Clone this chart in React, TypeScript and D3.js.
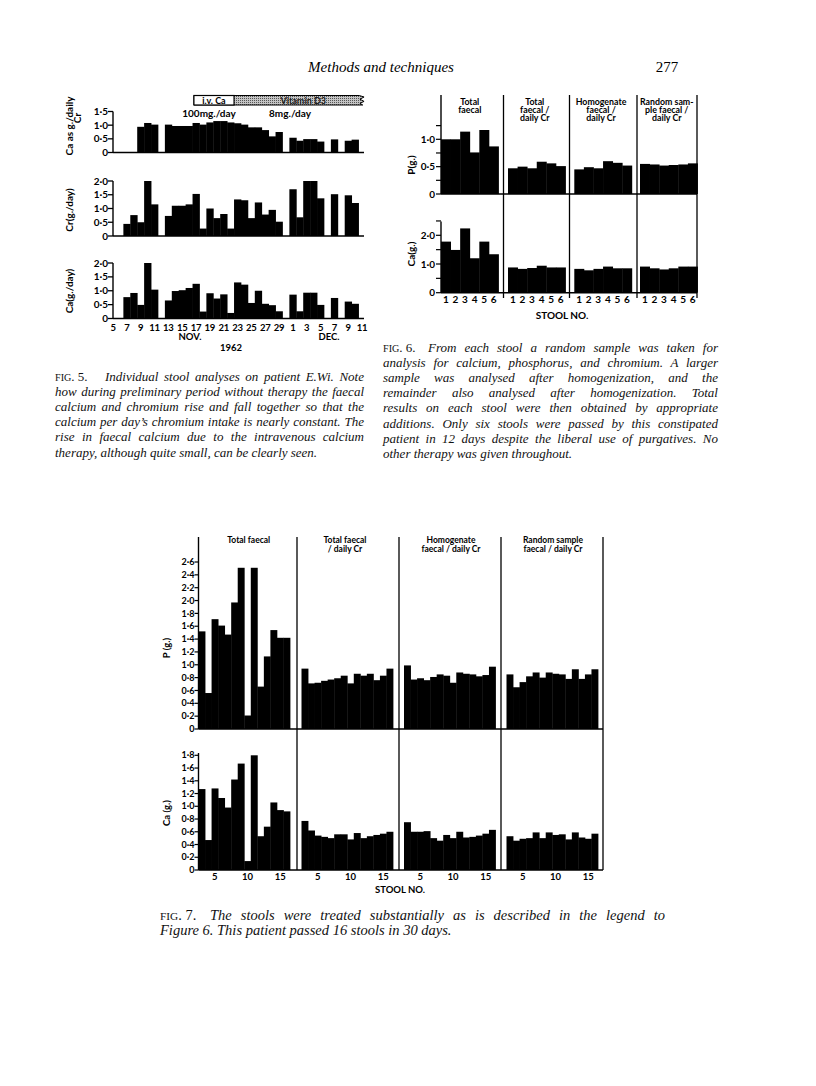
import React, { useRef, useEffect } from 'react';
import * as d3 from 'd3';

// page furniture
const headerTitle = 'Methods and techniques';
const pageNumber = '277';

// ---- Fig 5: one value per day, Nov 5 (index 0) .. Dec 10 (index 35), null = no stool
const fig5TickLabels = ['5', '7', '9', '11', '13', '15', '17', '19', '21', '23', '25', '27', '29', '1', '3', '5', '7', '9', '11'];
const fig5Ratio = [null, null, null, null, 0.94, 1.08, 1.02, null, 1.02, 0.97, 0.97, 0.97, 1.08, 1.02, 1.1, 1.15, 1.15, 1.1, 1.07, 1.02, 0.92, 0.92, 0.82, 0.59, 0.75, null, 0.54, 0.43, 0.49, 0.49, 0.4, null, 0.48, null, 0.43, 0.47];
const fig5Cr = [null, null, 0.44, 0.76, 0.5, 2.0, 1.15, null, 0.73, 1.1, 1.1, 1.15, 1.53, 0.27, 1.0, 0.65, 0.8, 0.27, 1.33, 1.3, 0.65, 1.22, 0.78, 0.95, 0.52, null, 1.7, 0.68, 2.0, 2.0, 1.37, null, 1.52, null, 1.48, 1.2];
const fig5Ca = [null, null, 0.77, 0.92, 0.49, 2.0, 1.04, null, 0.65, 0.99, 1.02, 1.1, 1.25, 0.25, 0.91, 0.72, 0.87, 0.2, 1.3, 1.22, 0.56, 1.0, 0.53, 0.48, 0.26, null, 0.86, 0.26, 0.93, 0.93, 0.49, null, 0.74, null, 0.61, 0.53];

// ---- Fig 6
const fig6Groups = [['Total', 'faecal'], ['Total', 'faecal  /', 'daily  Cr'], ['Homogenate', 'faecal  /', 'daily  Cr'], ['Random sam-', 'ple faecal  /', 'daily  Cr']];
const fig6Stools = [1, 2, 3, 4, 5, 6];
const fig6P = [
  [1.0, 1.0, 1.14, 0.76, 1.17, 0.87],
  [0.47, 0.5, 0.47, 0.59, 0.56, 0.51],
  [0.45, 0.49, 0.47, 0.6, 0.57, 0.52],
  [0.55, 0.54, 0.52, 0.53, 0.54, 0.56]
];
const fig6Ca = [
  [1.78, 1.49, 2.24, 1.2, 1.78, 1.34],
  [0.88, 0.83, 0.86, 0.94, 0.88, 0.88],
  [0.83, 0.78, 0.83, 0.91, 0.85, 0.85],
  [0.91, 0.85, 0.81, 0.85, 0.91, 0.91]
];

// ---- Fig 7 (stools 3..16 plotted)
const fig7Groups = [['Total  faecal'], ['Total  faecal', '/ daily  Cr'], ['Homogenate', 'faecal  /  daily  Cr'], ['Random  sample', 'faecal  /  daily  Cr']];
const fig7Stools = [3, 4, 5, 6, 7, 8, 9, 10, 11, 12, 13, 14, 15, 16];
const fig7TickStools = [5, 10, 15];
const fig7P = [
  [1.52, 0.56, 1.71, 1.61, 1.47, 1.97, 2.51, 0.21, 2.51, 0.66, 1.13, 1.54, 1.42, 1.42],
  [0.94, 0.71, 0.72, 0.75, 0.77, 0.79, 0.83, 0.71, 0.86, 0.83, 0.86, 0.76, 0.83, 0.94],
  [0.99, 0.77, 0.79, 0.76, 0.81, 0.85, 0.83, 0.72, 0.88, 0.86, 0.85, 0.82, 0.84, 0.97],
  [0.85, 0.65, 0.73, 0.82, 0.88, 0.8, 0.88, 0.86, 0.85, 0.78, 0.93, 0.78, 0.85, 0.93]
];
const fig7Ca = [
  [1.27, 0.47, 1.28, 1.13, 0.98, 1.42, 1.67, 0.14, 1.8, 0.53, 0.68, 1.06, 0.94, 0.92],
  [0.77, 0.62, 0.54, 0.52, 0.5, 0.56, 0.56, 0.48, 0.58, 0.5, 0.53, 0.55, 0.57, 0.6],
  [0.75, 0.6, 0.6, 0.61, 0.5, 0.46, 0.55, 0.5, 0.6, 0.51, 0.52, 0.54, 0.57, 0.63],
  [0.53, 0.46, 0.49, 0.5, 0.59, 0.5, 0.59, 0.55, 0.56, 0.48, 0.59, 0.51, 0.49, 0.57]
];

// captions
const fig5Caption = [
  'Individual stool analyses on patient E.Wi. Note',
  'how during preliminary period without therapy the faecal',
  'calcium and chromium rise and fall together so that the',
  'calcium per day\u2019s chromium intake is nearly constant. The',
  'rise in faecal calcium due to the intravenous calcium',
  'therapy, although quite small, can be clearly seen.'
];
const fig6Caption = [
  'From each stool a random sample was taken for',
  'analysis for calcium, phosphorus, and chromium. A larger',
  'sample was analysed after homogenization, and the',
  'remainder also analysed after homogenization. Total',
  'results on each stool were then obtained by appropriate',
  'additions. Only six stools were passed by this constipated',
  'patient in 12 days despite the liberal use of purgatives. No',
  'other therapy was given throughout.'
];
const fig7Caption = [
  'The stools were treated substantially as is described in the legend to',
  'Figure 6. This patient passed 16 stools in 30 days.'
];

const SANS = "Lato, 'DejaVu Sans', sans-serif";
const SERIF = "'Liberation Serif', 'DejaVu Serif', serif";
const fmt = (d: number) => (d === 0 ? '0' : d3.format('.1f')(d).replace('.', '\u00b7'));

// justified caption: word spacing is fitted after mount
function Caption({ x, width, indent, fig, lines, y0, lh, size = 13 }: any) {
  const ref = useRef<SVGGElement>(null);
  useEffect(() => {
    d3.select(ref.current).selectAll<SVGTextElement, unknown>('text.just').each(function () {
      const target = +(this.getAttribute('data-w') || 0);
      const natural = this.getComputedTextLength();
      const spaces = ((this.textContent || '').match(/ /g) || []).length;
      if (spaces) d3.select(this).attr('word-spacing', (target - natural) / spaces);
    });
  }, []);
  return (
    <g ref={ref} fontFamily={SERIF} fontSize={size} fill="#111">
      <text x={x} y={y0}>
        <tspan fontSize={size * 0.78}>FIG</tspan>
        <tspan>. {fig}.</tspan>
      </text>
      {lines.map((l: string, i: number) => {
        const lx = i === 0 ? x + indent : x;
        const last = i === lines.length - 1;
        return (
          <text key={i} x={lx} y={y0 + i * lh} fontStyle="italic"
            className={last ? '' : 'just'} data-w={width - (lx - x)}>
            {l}
          </text>
        );
      })}
    </g>
  );
}

function Fig5() {
  const x = d3.scaleLinear().domain([0, 36]).range([113, 362]);
  const panels = [
    { values: fig5Ratio, y: d3.scaleLinear().domain([0, 1.5]).range([152.5, 111.5]), ticks: [0, 0.5, 1, 1.5],
      labels: [{ t: 'Ca as g./daily', x: 69, y: 126 }, { t: 'Cr', x: 77, y: 118 }] },
    { values: fig5Cr, y: d3.scaleLinear().domain([0, 2]).range([236, 181]), ticks: [0, 0.5, 1, 1.5, 2],
      labels: [{ t: 'Cr(g./day)', x: 69, y: 210 }] },
    { values: fig5Ca, y: d3.scaleLinear().domain([0, 2]).range([318.5, 263]), ticks: [0, 0.5, 1, 1.5, 2],
      labels: [{ t: 'Ca(g./day)', x: 69, y: 291 }] }
  ];
  return (
    <g fontFamily={SANS} fontWeight="bold">
      {panels.map((p, i) => (
        <g key={i}>
          {p.values.map((v, k) => v == null ? null : (
            <rect key={k} x={x(k - 0.5)} y={p.y(v)} width={x(k + 0.5) - x(k - 0.5) + 0.4}
              height={p.y(0) - p.y(v)} fill="#000" />
          ))}
          <line x1={x(0)} x2={x(36) + 2} y1={p.y(0)} y2={p.y(0)} stroke="#000" strokeWidth={1.4} />
          <line x1={x(0)} x2={x(0)} y1={p.y(0)} y2={p.y(p.ticks[p.ticks.length - 1])} stroke="#000" strokeWidth={1.4} />
          {p.ticks.map(t => (
            <g key={t}>
              <line x1={x(0) - 5} x2={x(0)} y1={p.y(t)} y2={p.y(t)} stroke="#000" strokeWidth={1.3} />
              <text x={x(0) - 5} y={p.y(t)} dy="0.35em" textAnchor="end" fontSize={10}>{fmt(t)}</text>
            </g>
          ))}
          {p.labels.map(l => (
            <text key={l.t} transform={`translate(${l.x},${l.y}) rotate(-90)`} textAnchor="middle"
              dominantBaseline="central" fontSize={10}>{l.t}</text>
          ))}
        </g>
      ))}
      {fig5TickLabels.map((t, i) => (
        <text key={i} x={x(i * 2)} y={330.5} textAnchor="middle" fontSize={9.5} letterSpacing={-0.3}>{t}</text>
      ))}
      <text x={190} y={340} textAnchor="middle" fontSize={9.5}>NOV.</text>
      <text x={329} y={340} textAnchor="middle" fontSize={9.5}>DEC.</text>
      <text x={231} y={351} textAnchor="middle" fontSize={9.5}>1962</text>

      {/* therapy banner */}
      <defs>
        <pattern id="stip" width={2} height={2} patternUnits="userSpaceOnUse">
          <rect width={2} height={2} fill="#c4c4c4" />
          <rect width={1} height={1} fill="#555" />
        </pattern>
      </defs>
      <path d={`M${x(11.7)},95.5 H${x(35.6)} L${x(36.3)},97 L${x(35.7)},99.2 L${x(36.3)},101.4 L${x(35.7)},103.3 L${x(36.1)},105 H${x(11.7)} Z`}
        fill="url(#stip)" stroke="#000" strokeWidth={1} />
      <rect x={x(11.7)} y={95.5} width={x(17.5) - x(11.7)} height={9.5} fill="#fff" stroke="#000" strokeWidth={1.2} />
      <text x={(x(11.7) + x(17.5)) / 2} y={103.5} textAnchor="middle" fontSize={9}>i.v.  Ca</text>
      <text x={x(27.5)} y={103.5} textAnchor="middle" fontSize={9} fill="#222">Vitamin D3</text>
      <text x={209} y={117} textAnchor="middle" fontSize={10}>100mg./day</text>
      <text x={290} y={117} textAnchor="middle" fontSize={10}>8mg./day</text>
    </g>
  );
}

function Fig6() {
  const seps = [441, 503.5, 569.5, 637, 697];
  const starts = [441, 508, 574.3, 640];
  const bw = 57.5;
  const band = d3.scaleBand<number>().domain(fig6Stools).range([0, bw]);
  const yP = d3.scaleLinear().domain([0, 1]).range([194, 139.3]);
  const yCa = d3.scaleLinear().domain([0, 2]).range([292.7, 235.3]);
  const sub = [
    { data: fig6P, y: yP, ticks: [0, 0.25, 0.5, 0.75, 1, 1.25], labels: [0, 0.5, 1], top: 95, name: 'P(g.)', ly: 165 },
    { data: fig6Ca, y: yCa, ticks: [0, 0.5, 1, 1.5, 2, 2.5], labels: [0, 1, 2], top: 221.5, name: 'Ca(g.)', ly: 254 }
  ];
  return (
    <g fontFamily={SANS} fontWeight="bold">
      {sub.map((s, si) => (
        <g key={si}>
          {s.data.map((vals, gi) => vals.map((v, j) => (
            <rect key={gi + '-' + j} x={starts[gi] + (band(fig6Stools[j]) as number)} y={s.y(v)}
              width={band.bandwidth() + 0.4} height={s.y(0) - s.y(v)} fill="#000" />
          )))}
          <line x1={seps[0]} x2={seps[4]} y1={s.y(0)} y2={s.y(0)} stroke="#000" strokeWidth={1.4} />
          <line x1={seps[0]} x2={seps[0]} y1={s.top} y2={s.y(0)} stroke="#000" strokeWidth={1.4} />
          {s.ticks.map(t => (
            <line key={t} x1={seps[0] - 5} x2={seps[0]} y1={s.y(t)} y2={s.y(t)} stroke="#000" strokeWidth={1.2} />
          ))}
          {s.labels.map(t => (
            <text key={t} x={seps[0] - 6} y={s.y(t)} dy="0.35em" textAnchor="end" fontSize={10}>{fmt(t)}</text>
          ))}
          <text transform={`translate(411,${s.ly}) rotate(-90)`} textAnchor="middle" dominantBaseline="central" fontSize={10}>{s.name}</text>
        </g>
      ))}
      {seps.slice(1).map(sx => (
        <line key={sx} x1={sx} x2={sx} y1={95} y2={298} stroke="#000" strokeWidth={1.3} />
      ))}
      {fig6Groups.map((g, gi) => (
        <g key={gi}>
          {g.map((l, li) => (
            <text key={li} x={starts[gi] + bw / 2 + (gi === 0 ? 0 : -2)} y={104.5 + li * 8.4} textAnchor="middle" fontSize={8.8}>{l}</text>
          ))}
          {fig6Stools.map(st => (
            <text key={st} x={starts[gi] + (band(st) as number) + band.bandwidth() / 2} y={302.5} textAnchor="middle" fontSize={10}>{st}</text>
          ))}
        </g>
      ))}
      <text x={562} y={318.5} textAnchor="middle" fontSize={10}>STOOL  NO.</text>
    </g>
  );
}

function Fig7() {
  const seps = [198.5, 297, 399, 501, 603];
  const starts = [198.5, 301.5, 404, 506.5];
  const bw = 91.5;
  const band = d3.scaleBand<number>().domain(fig7Stools).range([0, bw]);
  const yP = d3.scaleLinear().domain([0, 2.6]).range([729, 562]);
  const yCa = d3.scaleLinear().domain([0, 1.8]).range([870, 755.3]);
  const sub = [
    { data: fig7P, y: yP, ticks: d3.range(0, 2.61, 0.2), top: 537, name: 'P (g.)', ly: 648 },
    { data: fig7Ca, y: yCa, ticks: d3.range(0, 1.81, 0.2), top: 753, name: 'Ca (g.)', ly: 813 }
  ];
  return (
    <g fontFamily={SANS} fontWeight="bold">
      {sub.map((s, si) => (
        <g key={si}>
          {s.data.map((vals, gi) => vals.map((v, j) => (
            <rect key={gi + '-' + j} x={starts[gi] + (band(fig7Stools[j]) as number)} y={s.y(v)}
              width={band.bandwidth() + 0.4} height={s.y(0) - s.y(v)} fill="#000" />
          )))}
          <line x1={seps[0]} x2={seps[4]} y1={s.y(0)} y2={s.y(0)} stroke="#000" strokeWidth={1.4} />
          <line x1={seps[0]} x2={seps[0]} y1={s.top} y2={s.y(0)} stroke="#000" strokeWidth={1.4} />
          {s.ticks.map((t, i) => (
            <g key={i}>
              <line x1={seps[0] - 4} x2={seps[0]} y1={s.y(t)} y2={s.y(t)} stroke="#000" strokeWidth={1.2} />
              <text x={seps[0] - 4} y={s.y(t)} dy="0.35em" textAnchor="end" fontSize={9}>{fmt(+t.toFixed(1))}</text>
            </g>
          ))}
          <text transform={`translate(166,${s.ly}) rotate(-90)`} textAnchor="middle" dominantBaseline="central" fontSize={9.5}>{s.name}</text>
        </g>
      ))}
      {seps.slice(1).map(sx => (
        <line key={sx} x1={sx} x2={sx} y1={537} y2={870} stroke="#000" strokeWidth={1.3} />
      ))}
      {fig7Groups.map((g, gi) => (
        <g key={gi}>
          {g.map((l, li) => (
            <text key={li} x={(seps[gi] + seps[gi + 1]) / 2 + (gi === 1 ? -3 : 1)} y={543 + li * 8.5} textAnchor="middle" fontSize={8.5}>{l}</text>
          ))}
          {fig7TickStools.map(st => (
            <text key={st} x={starts[gi] + (band(st) as number) + band.bandwidth() / 2} y={880} textAnchor="middle" fontSize={9.5}>{st}</text>
          ))}
        </g>
      ))}
      <text x={400} y={892.5} textAnchor="middle" fontSize={9.5}>STOOL  NO.</text>
    </g>
  );
}

export default function App() {
  return (
    <svg width={816} height={1086} viewBox="0 0 816 1086"
      style={{ position: 'absolute', left: 0, top: 0, background: '#fff' }}>
      <rect width={816} height={1086} fill="#fff" />
      <text x={381} y={72} textAnchor="middle" fontFamily={SERIF} fontStyle="italic" fontSize={15}>{headerTitle}</text>
      <text x={667} y={72} textAnchor="middle" fontFamily={SERIF} fontSize={15}>{pageNumber}</text>
      <Fig5 />
      <Fig6 />
      <Fig7 />
      <Caption x={55} width={309} indent={50} fig={5} lines={fig5Caption} y0={380.5} lh={15.2} />
      <Caption x={383} width={335} indent={45} fig={6} lines={fig6Caption} y0={351.5} lh={15.2} />
      <Caption x={160} width={505} indent={50} fig={7} lines={fig7Caption} y0={920} lh={15} size={14.5} />
    </svg>
  );
}
